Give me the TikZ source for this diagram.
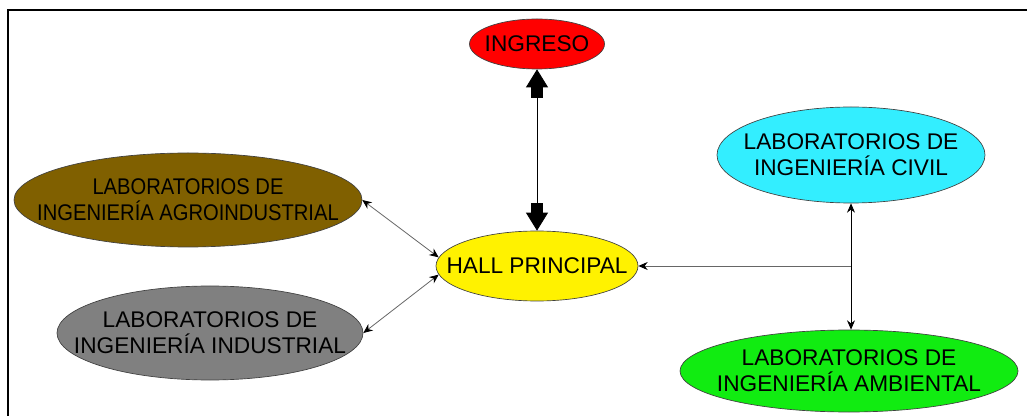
\documentclass[tikz,border=0pt]{standalone}
\usepackage{fontspec}
\setmainfont{Liberation Sans}
\usetikzlibrary{shapes.geometric,arrows.meta}
\definecolor{agrobrown}{RGB}{128,96,0}
\definecolor{civilcyan}{RGB}{51,238,255}
\definecolor{ambgreen}{RGB}{17,236,17}
\begin{document}
\begin{tikzpicture}[x=0.75pt,y=-0.75pt,
  zona/.style={ellipse,draw=black!75,line width=0.5pt,inner sep=0pt},
  rotulo/.style={align=center,font=\fontsize{17}{19.5}\selectfont,inner sep=0pt},
  fino/.style={draw=black!60,line width=0.6pt,{Stealth[length=7pt,width=6pt,black]}-{Stealth[length=7pt,width=6pt,black]}},
  grueso/.style={line width=0.6pt,{Triangle[length=13.5pt,width=16.5pt,sep=0pt]Square[length=7.5pt,width=9pt,sep=0pt]}-{Square[length=7.5pt,width=9pt,sep=0pt]Triangle[length=13.5pt,width=16.5pt,sep=0pt]}}]
\useasboundingbox (0,0) rectangle (1027,416);
\draw[line width=1.5pt] (8,416) -- (8,10) -- (1027,10);

\node[zona,fill=red,minimum width=135*0.75,minimum height=50*0.75] (ingreso) at (537,44) {};
\node[rotulo] (ingreso-t) at (ingreso) {INGRESO};

\node[zona,fill=yellow,minimum width=202*0.75,minimum height=70*0.75] (hall) at (537,266) {};
\node[rotulo] (hall-t) at (hall) {HALL PRINCIPAL};

\node[zona,fill=agrobrown,minimum width=348*0.75,minimum height=94*0.75] (agro) at (188,200) {};
\node[rotulo,xscale=0.89,transform shape] (agro-t) at (agro) {LABORATORIOS DE\\INGENIERÍA AGROINDUSTRIAL};

\node[zona,fill=gray,minimum width=306*0.75,minimum height=94*0.75] (indus) at (210,333) {};
\node[rotulo] (indus-t) at (indus) {LABORATORIOS DE\\INGENIERÍA INDUSTRIAL};

\node[zona,fill=civilcyan,minimum width=268*0.75,minimum height=96*0.75] (civil) at (851,155) {};
\node[rotulo] (civil-t) at (civil) {LABORATORIOS DE\\INGENIERÍA CIVIL};

\node[zona,fill=ambgreen,minimum width=338*0.75,minimum height=82*0.75] (amb) at (849,371) {};
\node[rotulo] (amb-t) at (amb) {LABORATORIOS DE\\INGENIERÍA AMBIENTAL};

% conexiones
\draw[grueso] (ingreso.south) -- (hall.north);
\draw[fino] (agro.east) -- (hall.175);
\draw[fino] (indus.east) -- (hall.185);
\draw[fino,draw=black] (civil.south) -- (civil.south |- amb.north);
\coordinate (cruce) at (civil.south |- hall.east);
\draw[fino,-{Stealth[length=7pt,width=6pt,black]}] (cruce) -- (hall.east);
\end{tikzpicture}
\end{document}
